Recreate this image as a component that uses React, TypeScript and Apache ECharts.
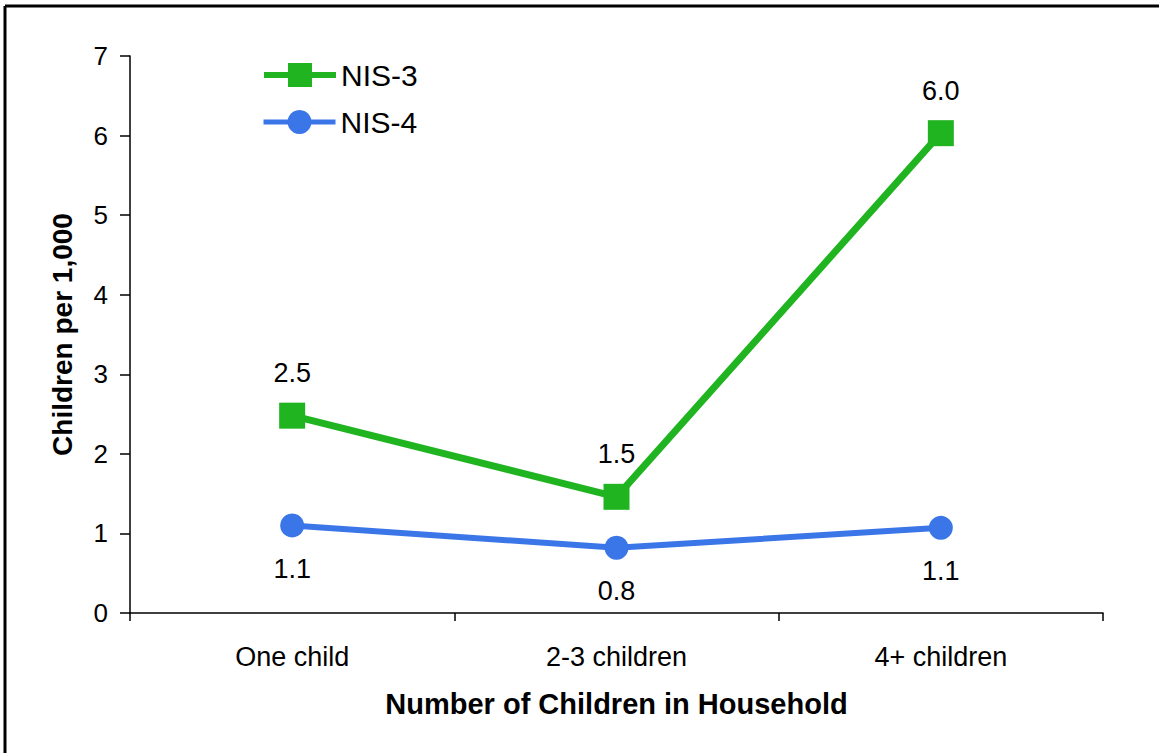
import React, { useEffect, useRef } from "react";
import * as echarts from "echarts";

const categories = ["One child", "2-3 children", "4+ children"];
const nis3 = [2.48, 1.46, 6.03];
const nis4 = [1.1, 0.82, 1.07];
const seriesNames = ["NIS-3", "NIS-4"];
const yTicks = [0, 7, 1];

const FONT = "'Liberation Sans', Arial, sans-serif";
const GREEN = "#20b420";
const BLUE = "#3b76e8";

export default function App() {
  const ref = useRef<HTMLDivElement>(null);
  useEffect(() => {
    if (!ref.current) return;
    const chart = echarts.init(ref.current, null, { renderer: "svg" });
    const legendCommon = {
      left: 261,
      orient: "vertical",
      itemWidth: 72,
      itemHeight: 30,
      itemGap: 0,
      padding: 0,
      textStyle: { fontSize: 30, color: "#000", fontFamily: FONT, lineHeight: 30 },
    };
    chart.setOption({
      animation: false,
      backgroundColor: "#ffffff",
      textStyle: { fontFamily: FONT },
      graphic: [
        { type: "line", shape: { x1: 5, y1: 6, x2: 1159, y2: 6 }, style: { stroke: "#000", lineWidth: 3 } },
        { type: "line", shape: { x1: 5, y1: 6, x2: 5, y2: 753 }, style: { stroke: "#000", lineWidth: 3 } },
      ],
      legend: [
        {
          ...legendCommon,
          top: 60,
          data: [{ name: seriesNames[0], lineStyle: { width: 6, color: GREEN } }],
        },
        {
          ...legendCommon,
          top: 107,
          data: [{ name: seriesNames[1], lineStyle: { width: 5, color: BLUE } }],
        },
      ],
      grid: { left: 130, right: 56, top: 56, bottom: 140 },
      xAxis: {
        type: "category",
        data: categories,
        boundaryGap: true,
        name: "Number of Children in Household",
        nameLocation: "middle",
        nameGap: 76,
        nameTextStyle: { fontSize: 29, fontWeight: "bold", color: "#000", fontFamily: FONT },
        axisLine: { lineStyle: { color: "#000", width: 1.5 } },
        axisTick: { show: true, alignWithLabel: false, length: 8, lineStyle: { color: "#000", width: 1.5 } },
        axisLabel: { fontSize: 27, color: "#000", margin: 30, fontFamily: FONT },
        splitLine: { show: false },
      },
      yAxis: {
        type: "value",
        min: yTicks[0],
        max: yTicks[1],
        interval: yTicks[2],
        name: "Children per 1,000",
        nameLocation: "middle",
        nameGap: 54,
        nameRotate: 90,
        nameTextStyle: { fontSize: 28, fontWeight: "bold", color: "#000", fontFamily: FONT },
        axisLine: { show: true, lineStyle: { color: "#000", width: 1.5 } },
        axisTick: { show: true, inside: false, length: 10, lineStyle: { color: "#000", width: 1.5 } },
        axisLabel: { fontSize: 26, color: "#000", margin: 22, fontFamily: FONT },
        splitLine: { show: false },
      },
      series: [
        {
          name: seriesNames[0],
          type: "line",
          data: nis3,
          symbol: "rect",
          symbolSize: 26,
          color: GREEN,
          lineStyle: { color: GREEN, width: 7 },
          itemStyle: { color: GREEN },
          label: {
            show: true,
            position: "top",
            distance: 16,
            fontSize: 27,
            color: "#000",
            fontFamily: FONT,
            formatter: (p: any) => Number(p.value).toFixed(1),
          },
          z: 3,
        },
        {
          name: seriesNames[1],
          type: "line",
          data: nis4,
          symbol: "circle",
          symbolSize: 24,
          color: BLUE,
          lineStyle: { color: BLUE, width: 6 },
          itemStyle: { color: BLUE },
          label: {
            show: true,
            position: "bottom",
            distance: 18,
            fontSize: 27,
            color: "#000",
            fontFamily: FONT,
            formatter: (p: any) => Number(p.value).toFixed(1),
          },
          z: 2,
        },
      ],
    });
    return () => chart.dispose();
  }, []);
  return (
    <div
      ref={ref}
      style={{ position: "fixed", left: 0, top: 0, width: 1159, height: 753, background: "#fff" }}
    />
  );
}
